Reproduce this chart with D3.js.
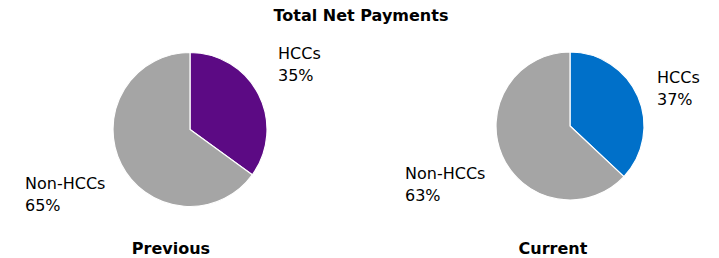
<!DOCTYPE html>
<html><head><meta charset="utf-8">
<script src="https://cdn.jsdelivr.net/npm/d3@7"></script>
<style>html,body{margin:0;padding:0;background:#fff;}svg{display:block;font-family:"DejaVu Sans",Verdana,sans-serif;}</style>
</head><body><svg id="c" width="719" height="258"></svg>
<script>
const title = "Total Net Payments";
const categories = ["HCCs", "Non-HCCs"];
const panels = ["Previous", "Current"];
const previousValues = [35, 65];
const currentValues = [37, 63];
const hccColors = ["#5C0A84", "#0070C9"];
const otherColor = "#A5A5A5";

const svg = d3.select("#c");
svg.append("text").attr("x", 361).attr("y", 21).attr("text-anchor", "middle")
  .attr("font-weight", "bold").attr("font-size", 16).attr("fill", "#000").text(title);

const layout = [
  {vals: previousValues, cx: 190, cy: 129.5, r: 77, hcc: [278, 59], non: [25, 189], lab: [171, 254]},
  {vals: currentValues, cx: 570, cy: 126, r: 74, hcc: [657, 83], non: [405, 179], lab: [553, 254]}
];
const pie = d3.pie().sort(null).value(d => d);

layout.forEach((p, i) => {
  const g = svg.append("g").attr("transform", `translate(${p.cx},${p.cy})`);
  const arc = d3.arc().innerRadius(0).outerRadius(p.r);
  g.selectAll("path").data(pie(p.vals)).join("path")
    .attr("d", arc)
    .attr("fill", (d, j) => j === 0 ? hccColors[i] : otherColor)
    .attr("stroke", "#fff").attr("stroke-width", 1.2);
  const labs = [p.hcc, p.non];
  labs.forEach((pos, j) => {
    const t = svg.append("text").attr("font-size", 16).attr("fill", "#000");
    t.append("tspan").attr("x", pos[0]).attr("y", pos[1]).text(categories[j]);
    t.append("tspan").attr("x", pos[0]).attr("y", pos[1] + 22).text(p.vals[j] + "%");
  });
  svg.append("text").attr("x", p.lab[0]).attr("y", p.lab[1]).attr("text-anchor", "middle")
    .attr("font-weight", "bold").attr("font-size", 16).attr("fill", "#000").text(panels[i]);
});
</script></body></html>
